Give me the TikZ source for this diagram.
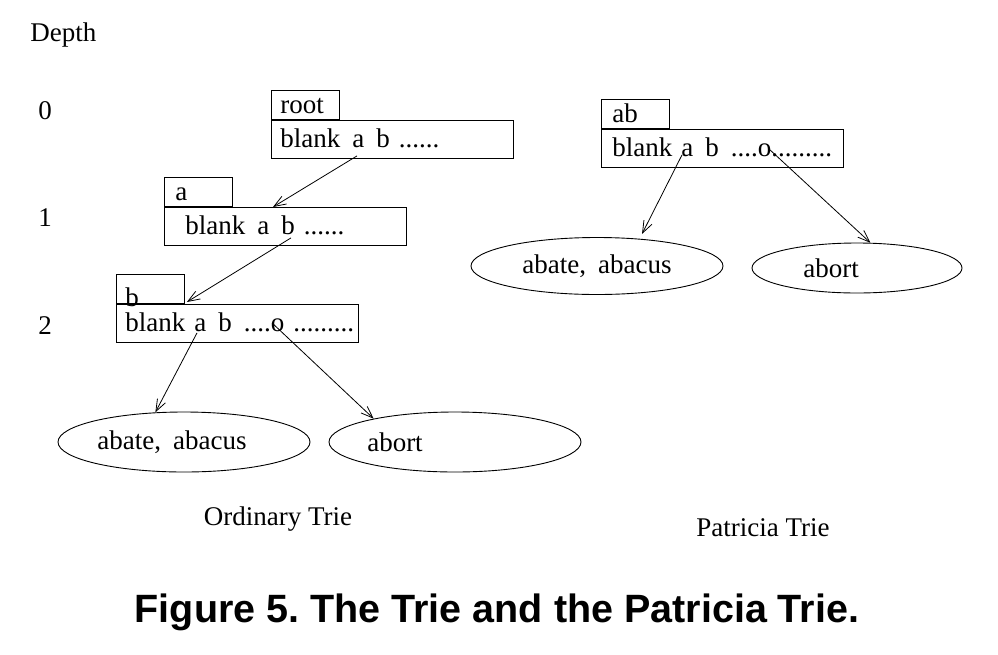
\documentclass[tikz,border=0pt]{standalone}
\usepackage{fontspec}
\setmainfont{Liberation Serif}
\newfontfamily\titlefont{Liberation Sans}
\usepackage{tikz}
\usetikzlibrary{arrows.meta, positioning, shapes.geometric}
\frenchspacing
\newcommand{\slots}[1]{\mbox{#1}}
\newcommand{\gap}{\hspace{12pt}}

\begin{document}
\begin{tikzpicture}[
    x=1pt, y=-1pt,
    line width=0.9pt,
    every node/.style={font=\fontsize{27}{32}\selectfont, inner sep=0pt},
    cell/.style={rectangle, draw, anchor=north west, minimum height=38pt,
                 text width=224pt, inner xsep=9pt, align=left,
                 text height=19pt, text depth=2pt},
    tab/.style={rectangle, draw, anchor=south west, minimum height=29pt,
                text width=50pt, inner xsep=9pt, align=left,
                text height=19pt, text depth=3pt},
    leaf/.style={ellipse, draw, minimum width=252pt, minimum height=60pt},
    ptr/.style={-{Straight Barb[length=12pt, width=9pt]}, line width=0.8pt},
    caption/.style={font=\titlefont\bfseries\fontsize{39.5}{44}\selectfont}
]
\fill[white] (0,0) rectangle (998,654);
\useasboundingbox (0,0) rectangle (998,654);

% Depth scale
\node[anchor=west] (depth) at (30,35) {Depth};
\node (d0) at (45,111) {0};
\node (d1) at (45,218) {1};
\node (d2) at (45,326) {2};

% Ordinary trie (left)
\node[cell] (rootcell) at (271,120) {\slots{blank\gap a\gap b ......}};
\node[tab]  (roottab)  at (rootcell.north west) {root};
\node[cell] (acell) at (164,207) {\slots{\hspace{12pt}blank\gap a\gap b ......}};
\node[tab]  (atab)  at (acell.north west) {\hspace{2pt}a};
\node[cell] (bcell) at (116,304) {\slots{blank a\gap b\gap ....o .........}};
\node[tab]  (btab)  at (bcell.north west) {\raisebox{-9pt}{b}};

\node[leaf] (oabate) at (184,442) {abate,\gap abacus\hspace*{24pt}};
\node[leaf] (oabort) at (455,442) {abort\hspace*{120pt}};

\coordinate (root-a) at ([shift={(86,-3)}]rootcell.south west);
\coordinate (a-b)    at ([shift={(127,-8)}]acell.south west);
\coordinate (b-a)    at ([shift={(81,-10)}]bcell.south west);
\coordinate (b-o)    at ([shift={(156,-20)}]bcell.south west);

\draw[ptr] (root-a) -- ([xshift=109pt]acell.north west);
\draw[ptr] (a-b)    -- ([shift={(2,-2)}]btab.south east);
\draw[ptr] (b-a)    -- (oabate.134);
\draw[ptr] (b-o)    -- (oabort.164);

\node (ordcap) at (278,519) {Ordinary Trie};

% Patricia trie (right)
\node[cell] (pcell) at (601,129) {\slots{\hspace{2pt}blank a\gap b\gap ....o.........}};
\node[tab]  (ptab)  at (pcell.north west) {\hspace{2pt}ab};

\node[leaf, minimum height=57pt] (pabate) at (597,266) {abate,\gap abacus};
\node[leaf, minimum width=210pt, minimum height=50pt] (pabort) at (857,268)
    {abort\hspace*{52pt}};

\coordinate (p-a) at ([shift={(81,-13)}]pcell.south west);
\coordinate (p-o) at ([shift={(169,-18)}]pcell.south west);

\draw[ptr] (p-a) -- ([yshift=5pt]pabate.31);
\draw[ptr] (p-o) -- (pabort.62);

\node (patcap) at (763,528) {Patricia Trie};

% Figure caption
\node[caption] (title) at (497,612) {Figure 5. The Trie and the Patricia Trie.};

\end{tikzpicture}
\end{document}
